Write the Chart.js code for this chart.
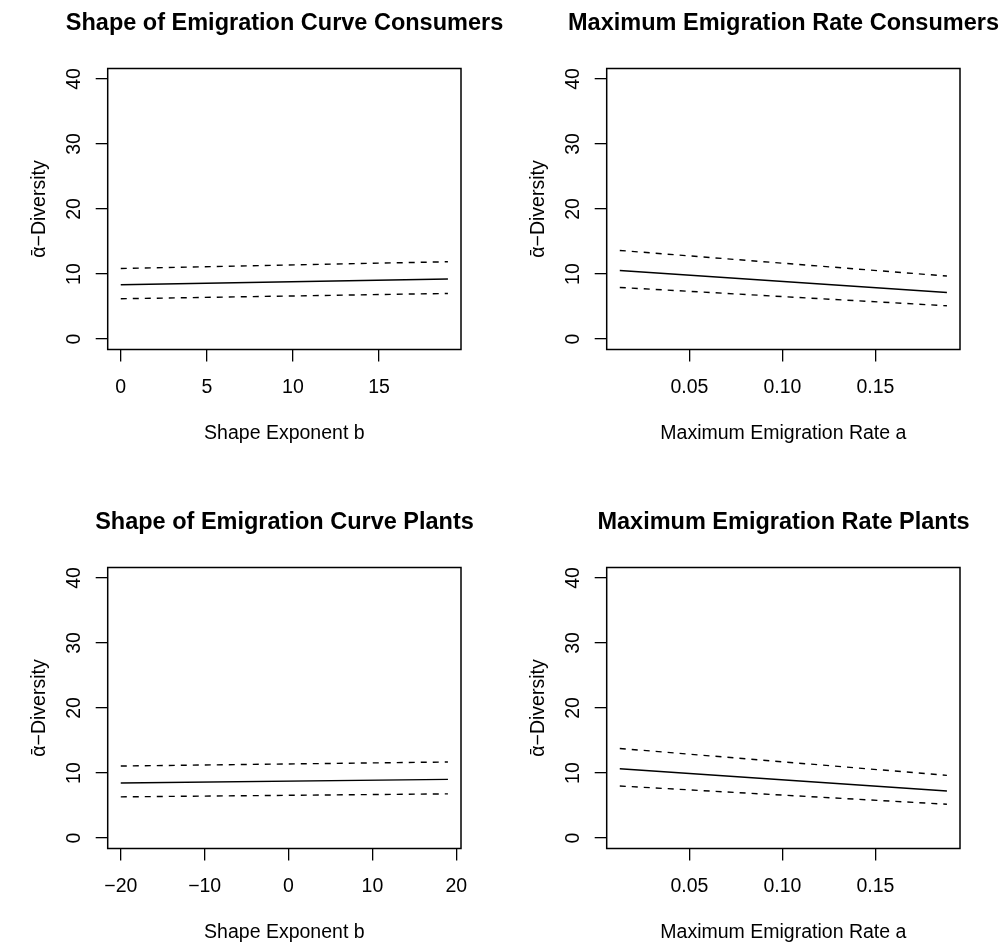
<!DOCTYPE html>
<html>
<head>
<meta charset="utf-8">
<script src="https://cdn.jsdelivr.net/npm/chart.js@4.4.1/dist/chart.umd.min.js"></script>
<style>
  html, body { margin: 0; padding: 0; background: #fff; overflow: hidden; }
  body { width: 1005px; height: 947px; position: relative; }
  canvas { position: absolute; }
</style>
</head>
<body>
<canvas id="shapeCons" width="569" height="448" style="left:0;top:0"></canvas>
<canvas id="rateCons" width="569" height="448" style="left:499px;top:0"></canvas>
<canvas id="shapePlants" width="569" height="448" style="left:0;top:499px"></canvas>
<canvas id="ratePlants" width="569" height="448" style="left:499px;top:499px"></canvas>
<script>
// fitted mean and dashed bounds (line end points)
const shapeConsX = [0, 19];
const shapeConsMean = [8.35, 9.23];
const shapeConsUpper = [10.86, 11.89];
const shapeConsLower = [6.2, 7.02];

const rateConsX = [0.0125, 0.1885];
const rateConsMean = [10.55, 7.17];
const rateConsUpper = [13.63, 9.69];
const rateConsLower = [7.94, 5.12];

const shapePlantsX = [-20, 19];
const shapePlantsMean = [8.48, 9.03];
const shapePlantsUpper = [11.08, 11.7];
const shapePlantsLower = [6.34, 6.8];

const ratePlantsX = [0.0125, 0.1885];
const ratePlantsMean = [10.67, 7.24];
const ratePlantsUpper = [13.78, 9.65];
const ratePlantsLower = [8.01, 5.2];

const yLimits = [0, 40];
const yTicks = [0, 10, 20, 30, 40];
const yTickLabels = ["0", "10", "20", "30", "40"];
const shapeConsTicks = [0, 5, 10, 15];
const shapeConsTickLabels = ["0", "5", "10", "15"];
const shapePlantsTicks = [-20, -10, 0, 10, 20];
const shapePlantsTickLabels = ["\u221220", "\u221210", "0", "10", "20"];
const rateTicks = [0.05, 0.10, 0.15];
const rateTickLabels = ["0.05", "0.10", "0.15"];

Chart.defaults.font.family = "'Liberation Sans', Arial, sans-serif";
Chart.defaults.font.size = 19.5;
Chart.defaults.color = "#000";

// extend a range by 4% each side, like R does
function padRange(lo, hi) {
  const d = (hi - lo) * 0.04;
  return [lo - d, hi + d];
}

// box round the plot region
const frame = {
  id: "frame",
  afterDatasetsDraw(chart) {
    const a = chart.chartArea, ctx = chart.ctx;
    ctx.save();
    ctx.strokeStyle = "#000";
    ctx.lineWidth = 1.5;
    ctx.strokeRect(a.left, a.top, a.right - a.left, a.bottom - a.top);
    ctx.restore();
  }
};

function panel(id, title, xTitle, xs, mean, upper, lower, xTicks, xLabels) {
  const xr = padRange(Math.min(...xs), Math.max(...xs));
  const yr = padRange(yLimits[0], yLimits[1]);
  const line = (ys, dash) => ({
    data: xs.map((x, i) => ({ x: x, y: ys[i] })),
    borderColor: "#000",
    borderWidth: 1.4,
    borderDash: dash,
    pointRadius: 0,
    tension: 0,
    fill: false
  });

  new Chart(document.getElementById(id), {
    type: "line",
    data: { datasets: [line(upper, [6, 6]), line(mean, []), line(lower, [6, 6])] },
    plugins: [frame],
    options: {
      responsive: false,
      animation: false,
      parsing: false,
      layout: { padding: 0 },
      plugins: {
        legend: { display: false },
        tooltip: { enabled: false },
        title: {
          display: true,
          text: title,
          color: "#000",
          font: { size: 23.5, weight: "bold" },
          padding: { top: 9.5, bottom: 30.8 }
        }
      },
      scales: {
        x: {
          type: "linear",
          min: xr[0],
          max: xr[1],
          afterBuildTicks: s => { s.ticks = xTicks.map(v => ({ value: v })); },
          afterFit: s => { s.height = 98.5; s.paddingLeft = 0; s.paddingRight = 0; },
          ticks: {
            autoSkip: false,
            maxRotation: 0,
            padding: 14,
            callback: (v, i) => xLabels[i]
          },
          grid: { drawOnChartArea: false, tickLength: 12, color: "#000", lineWidth: 1.3 },
          border: { display: false },
          title: { display: true, text: xTitle, padding: { top: 0, bottom: 3 } }
        },
        y: {
          type: "linear",
          min: yr[0],
          max: yr[1],
          afterBuildTicks: s => { s.ticks = yTicks.map(v => ({ value: v })); },
          afterFit: s => { s.width = 107.7; s.paddingTop = 0; s.paddingBottom = 0; },
          ticks: {
            autoSkip: false,
            minRotation: 90,
            maxRotation: 90,
            crossAlign: "center",
            padding: 10,
            callback: (v, i) => yTickLabels[i]
          },
          grid: { drawOnChartArea: false, tickLength: 12, color: "#000", lineWidth: 1.3 },
          border: { display: false },
          title: { display: true, text: "\u1FB1\u2212Diversity", padding: { top: 28, bottom: 0 } }
        },
        // empty right margin so the title is centred over the box
        yRight: {
          type: "linear",
          position: "right",
          afterFit: s => { s.width = 108; s.paddingTop = 0; s.paddingBottom = 0; },
          ticks: { display: false },
          grid: { display: false },
          border: { display: false }
        }
      }
    }
  });
}

panel("shapeCons", "Shape of Emigration Curve Consumers", "Shape Exponent b",
  shapeConsX, shapeConsMean, shapeConsUpper, shapeConsLower, shapeConsTicks, shapeConsTickLabels);
panel("rateCons", "Maximum Emigration Rate Consumers", "Maximum Emigration Rate a",
  rateConsX, rateConsMean, rateConsUpper, rateConsLower, rateTicks, rateTickLabels);
panel("shapePlants", "Shape of Emigration Curve Plants", "Shape Exponent b",
  shapePlantsX, shapePlantsMean, shapePlantsUpper, shapePlantsLower, shapePlantsTicks, shapePlantsTickLabels);
panel("ratePlants", "Maximum Emigration Rate Plants", "Maximum Emigration Rate a",
  ratePlantsX, ratePlantsMean, ratePlantsUpper, ratePlantsLower, rateTicks, rateTickLabels);
</script>
</body>
</html>
